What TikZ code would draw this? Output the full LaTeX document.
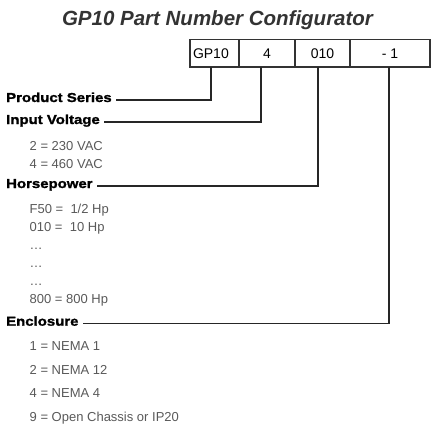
\documentclass[tikz,border=0pt]{standalone}
\usepackage{fontspec}
\setmainfont{Liberation Sans}
\newfontfamily\headfont[FakeStretch=1.15,FakeBold=1.4]{Liberation Sans}

\begin{document}
\begin{tikzpicture}[x=1pt,y=-1pt,
  cell/.style={draw=black!80,line width=1.2pt,outer sep=0pt,inner sep=0pt,minimum height=27.5pt,anchor=north west,font=\fontsize{14}{16}\selectfont},
  head/.style={anchor=base west,inner xsep=4pt,inner ysep=0pt,font=\headfont\bfseries\fontsize{13}{15}\selectfont},
  item/.style={anchor=base west,inner sep=0pt,text=black!65,font=\fontsize{13}{15}\selectfont},
  lead/.style={draw=black!85,line width=1.2pt}]
\useasboundingbox (0,0) rectangle (434,424);
\node[anchor=base,text=black!80,font=\bfseries\itshape\fontsize{20.5}{24}\selectfont] (title) at (217.5,25) {GP10 Part Number Configurator};
% part number cells
\node[cell,text width=43pt,inner xsep=3pt] (gp) at (190,39.5) {GP10};
\node[cell,minimum width=56pt] (volt) at (gp.north east) {4};
\node[cell,minimum width=55pt] (hp) at (volt.north east) {010};
\node[cell,minimum width=80pt] (encl) at (hp.north east) {- 1};
% headings
\node[head] (series) at (2,102) {Product Series};
\node[head] (voltage) at (2,124) {Input Voltage};
\node[head] (power) at (2,188) {Horsepower};
\node[head] (enclosure) at (2,325.7) {Enclosure};
\draw[lead] ([xshift=-3.5pt]gp.south) |- ([yshift=2pt]series.base east);
\draw[lead] ([xshift=-6pt]volt.south) |- ([yshift=2pt]voltage.base east);
\draw[lead] ([xshift=-4.5pt]hp.south) |- ([yshift=2pt]power.base east);
\draw[lead] ([xshift=-1pt]encl.south) |- ([yshift=2pt]enclosure.base east);
% option lists
\foreach \t [count=\i] in {2 = 230 VAC,4 = 460 VAC}
\node[item] (voltage\i) at (29.5,{132+18*\i}) {\t};
\foreach \t [count=\i] in {F50 =\ \ 1/2 Hp,010 =\ \ 10 Hp,\ldots,\ldots,\ldots,800 = 800 Hp}
\node[item] (power\i) at (29.5,{195.3+18*\i}) {\t};
\foreach \t [count=\i] in {1 = NEMA 1,2 = NEMA 12,4 = NEMA 4,9 = Open Chassis or IP20}
\node[item] (enclosure\i) at (29.5,{327.4+23.5*\i}) {\t};
\end{tikzpicture}
\end{document}
